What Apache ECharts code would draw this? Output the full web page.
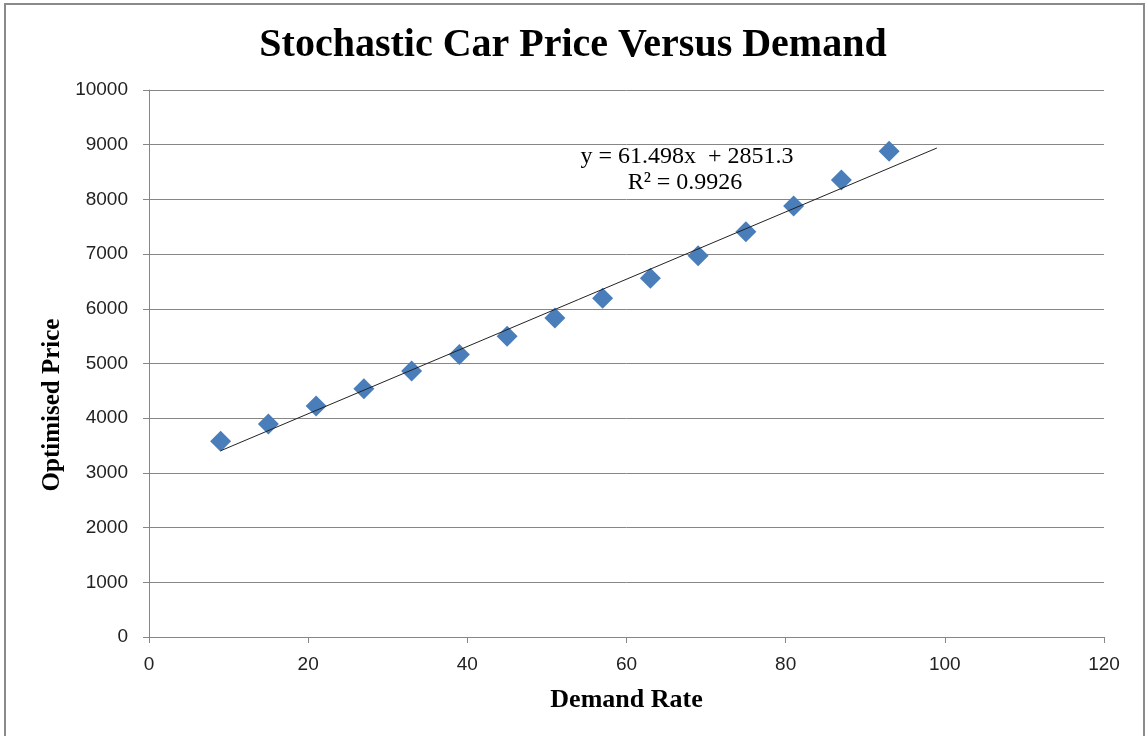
<!DOCTYPE html>
<html>
<head>
<meta charset="utf-8">
<script src="https://cdn.jsdelivr.net/npm/echarts@6/dist/echarts.min.js"></script>
<style>
  html, body { margin: 0; padding: 0; background: #fff; }
  #chart { width: 1146px; height: 736px; }
</style>
</head>
<body>
<div id="chart"></div>
<script>
// demand rate (x) and optimised price (y)
const demandRate = [9, 15, 21, 27, 33, 39, 45, 51, 57, 63, 69, 75, 81, 87, 93]
const optimisedPrice = [3580, 3895, 4225, 4540, 4865, 5165, 5500, 5830, 6195, 6560, 6970, 7410, 7880, 8355, 8880]

// linear trendline shown on the chart
const slope = 61.498
const intercept = 2851.3
const trendRange = [9, 99]
const equationLines = ['y = 61.498x  + 2851.3', 'R² = 0.9926']

const chart = echarts.init(document.getElementById('chart'))

const trendData = trendRange.map((x) => [x, slope * x + intercept])

chart.setOption({
  backgroundColor: '#fff',
  animation: false,
  title: {
    text: 'Stochastic Car Price Versus Demand',
    left: 'center',
    top: 21,
    textStyle: {
      fontFamily: 'Liberation Serif',
      fontWeight: 'bold',
      fontSize: 40,
      color: '#000',
    },
  },
  grid: {
    left: 149,
    right: 42,
    top: 90,
    bottom: 99,
  },
  graphic: [
    {
      type: 'rect',
      shape: { x: 5, y: 4, width: 1139, height: 740 },
      style: { fill: 'none', stroke: '#8a8a8a', lineWidth: 2 },
      silent: true,
    },
    {
      type: 'text',
      x: 687,
      y: 157,
      style: {
        text: equationLines[0],
        align: 'center',
        verticalAlign: 'middle',
        font: '24px "Liberation Serif"',
        fill: '#000',
      },
    },
    {
      type: 'text',
      x: 685,
      y: 183,
      style: {
        text: equationLines[1],
        align: 'center',
        verticalAlign: 'middle',
        font: '24px "Liberation Serif"',
        fill: '#000',
      },
    },
    {
      type: 'text',
      x: 53,
      y: 405,
      rotation: Math.PI / 2,
      style: {
        text: 'Optimised Price',
        align: 'center',
        verticalAlign: 'middle',
        font: 'bold 25px "Liberation Serif"',
        fill: '#000',
      },
    },
  ],
  xAxis: {
    type: 'value',
    min: 0,
    max: 120,
    interval: 20,
    name: 'Demand Rate',
    nameLocation: 'middle',
    nameGap: 50,
    nameTextStyle: {
      fontFamily: 'Liberation Serif',
      fontWeight: 'bold',
      fontSize: 26,
      color: '#000',
    },
    axisLine: { lineStyle: { color: '#868686' } },
    axisTick: { show: true, length: 6, lineStyle: { color: '#868686' } },
    axisLabel: {
      fontFamily: 'Liberation Sans',
      fontSize: 19,
      color: '#222',
      margin: 18,
    },
    splitLine: { show: false },
  },
  yAxis: {
    type: 'value',
    min: 0,
    max: 10000,
    interval: 1000,
    axisLine: { show: true, lineStyle: { color: '#868686' } },
    axisTick: { show: true, length: 6, lineStyle: { color: '#868686' } },
    axisLabel: {
      fontFamily: 'Liberation Sans',
      fontSize: 19,
      color: '#222',
      margin: 21,
      formatter: (v) => String(v),
    },
    splitLine: { lineStyle: { color: '#868686' } },
  },
  series: [
    {
      name: 'Trend',
      type: 'line',
      data: trendData,
      symbol: 'none',
      lineStyle: { color: '#222', width: 1 },
      z: 3,
    },
    {
      name: 'Optimised Price',
      type: 'scatter',
      data: demandRate.map((x, i) => [x, optimisedPrice[i]]),
      symbol: 'diamond',
      symbolSize: [21, 21],
      itemStyle: { color: '#4A7EBB', opacity: 1 },
      z: 2,
    },
  ],
})
</script>
</body>
</html>
